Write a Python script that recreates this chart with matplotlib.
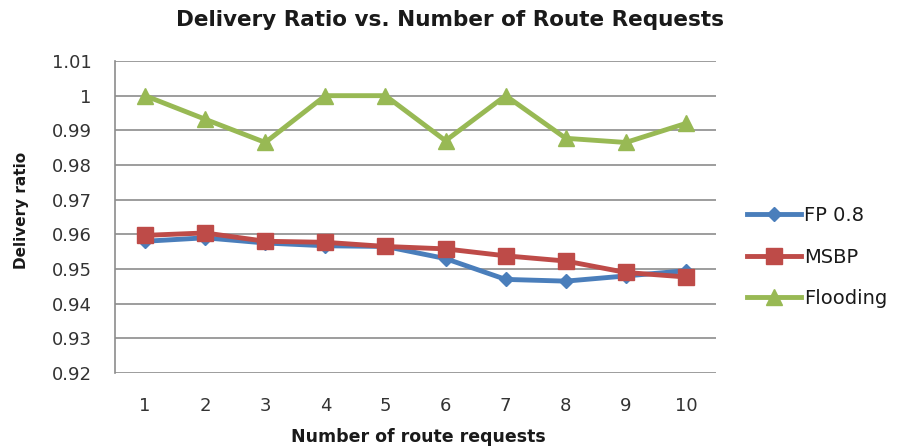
import matplotlib
matplotlib.use("Agg")
import matplotlib.pyplot as plt

x = [1, 2, 3, 4, 5, 6, 7, 8, 9, 10]
fp = [0.958, 0.959, 0.9575, 0.9567, 0.9565, 0.953, 0.947, 0.9465, 0.948, 0.9495]
msbp = [0.9597, 0.9604, 0.958, 0.9577, 0.9565, 0.9558, 0.9538, 0.9523, 0.949, 0.9477]
flood = [1.0, 0.9932, 0.9865, 1.0, 1.0, 0.987, 1.0, 0.9877, 0.9865, 0.992]
yticks = [0.92, 0.93, 0.94, 0.95, 0.96, 0.97, 0.98, 0.99, 1.0, 1.01]
ylabels = ["0.92", "0.93", "0.94", "0.95", "0.96", "0.97", "0.98", "0.99", "1", "1.01"]

plt.rcParams['font.family'] = ['DejaVu Sans']
fig = plt.figure(figsize=(9.14, 4.48), dpi=100)
ax = fig.add_axes([115/914, 1 - 373/448, (716 - 115)/914, (373 - 61)/448])

ax.plot(x, fp, color='#4a7ebb', lw=3.5, marker='D', ms=7, label='FP 0.8', zorder=3)
ax.plot(x, msbp, color='#be4b48', lw=3.5, marker='s', ms=11, label='MSBP', zorder=4)
ax.plot(x, flood, color='#98b954', lw=3.5, marker='^', ms=12, label='Flooding', zorder=3)

ax.set_xlim(0.5, 10.5)
ax.set_ylim(0.92, 1.01)
ax.set_yticks(yticks)
ax.set_yticklabels(ylabels)
ax.set_xticks(x)
ax.tick_params(axis='both', length=0, labelsize=13, colors='#333333')
ax.tick_params(axis='x', pad=17)
ax.tick_params(axis='y', pad=17)
ax.grid(axis='y', color='#8c8c8c', lw=1.2)
ax.set_axisbelow(True)
for s in ['top', 'right', 'bottom']:
    ax.spines[s].set_visible(False)
ax.spines['left'].set_color('#8c8c8c')
ax.spines['left'].set_linewidth(1.2)

fig.text(0.492, 0.955, 'Delivery Ratio vs. Number of Route Requests', ha='center', va='center',
         fontsize=15.5, fontweight='bold', color='#1a1a1a')
fig.text(0.024, 0.53, 'Delivery ratio', rotation=90, ha='center', va='center', fontsize=11,
         fontweight='bold', color='#1a1a1a')
fig.text(0.458, 0.025, 'Number of route requests', ha='center', va='center', fontsize=12.5,
         fontweight='bold', color='#1a1a1a')

leg = fig.legend(loc='center left', bbox_to_anchor=(0.798, 0.426), frameon=False, fontsize=14,
                 handlelength=2.8, labelspacing=1.15, handletextpad=0.15)
for t in leg.get_texts():
    t.set_color('#1a1a1a')

fig.savefig('out.png', dpi=100, facecolor='white')
